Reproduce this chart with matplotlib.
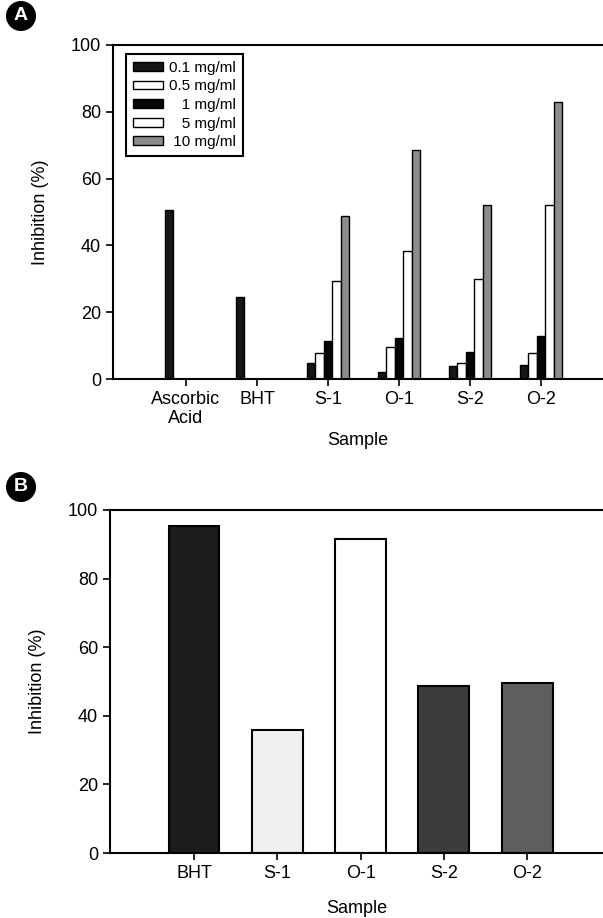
import matplotlib
matplotlib.use("Agg")
import matplotlib.pyplot as plt
import numpy as np

plt.rcParams['font.family'] = ['Liberation Sans', 'DejaVu Sans']

# panel A data
samples_a = ['Ascorbic\nAcid', 'BHT', 'S-1', 'O-1', 'S-2', 'O-2']
# padded with figure/punctuation spaces so the labels line up on the right
conc_labels = ['0.1 mg/ml', '0.5 mg/ml', '\u2007\u20081 mg/ml', '\u2007\u20085 mg/ml', '\u200810 mg/ml']
c01 = [50.5, 24.5, 4.8, 2.2, 3.8, 4.2]
c05 = [0, 0, 7.7, 9.5, 4.8, 7.7]
c1 = [0, 0, 11.5, 12.3, 8.0, 12.8]
c5 = [0, 0, 29.4, 38.4, 29.8, 52.0]
c10 = [0, 0, 48.9, 68.5, 52.1, 82.9]
a_colors = ['#161616', 'white', '#050505', 'white', '#8c8c8c']

# panel B data
samples_b = ['BHT', 'S-1', 'O-1', 'S-2', 'O-2']
inhib_b = [95.4, 35.9, 91.6, 48.8, 49.5]
b_colors = ['#1c1c1c', '#f0f0f0', 'white', '#3c3c3c', '#5e5e5e']

fig = plt.figure(figsize=(6.03, 9.18), dpi=100)

def style_axes(ax):
    for s in ['left', 'top', 'bottom']:
        ax.spines[s].set_linewidth(1.5)
    ax.spines['right'].set_visible(False)
    ax.tick_params(direction='out', length=5, width=1.2, labelsize=13)
    ax.set_ylim(0, 100)
    ax.set_yticks([0, 20, 40, 60, 80, 100])

# ---- A ----
axA = fig.add_axes([113/603, 1-379/918, 490/603, 334/918])
x = np.arange(len(samples_a))
w = 0.121
series = [c01, c05, c1, c5, c10]
for k, vals in enumerate(series):
    axA.bar(x + (k-2)*w, vals, w, color=a_colors[k], edgecolor='black',
            linewidth=1.0, label=conc_labels[k])
axA.set_xlim(-1.028, 5.873)
axA.set_xticks(x)
axA.set_xticklabels(samples_a)
style_axes(axA)
axA.set_ylabel('Inhibition (%)', fontsize=13)
axA.yaxis.set_label_coords(-0.13, 0.5)
axA.set_xlabel('Sample', fontsize=13)
axA.xaxis.set_label_coords(0.5, -0.183)
axA.xaxis.label.set_va('center')
leg = axA.legend(loc='upper left', bbox_to_anchor=(0.0265, 0.973), borderaxespad=0,
                 fancybox=False, edgecolor='black', fontsize=11, handlelength=2.0,
                 handleheight=0.5, labelspacing=0.3, handletextpad=0.35,
                 borderpad=0.45, framealpha=1)
leg.get_frame().set_linewidth(1.5)

# ---- B ----
axB = fig.add_axes([110/603, 1-853/918, 493/603, 343/918])
xb = np.arange(len(samples_b))
axB.bar(xb, inhib_b, 0.61, color=b_colors, edgecolor='black', linewidth=1.5)
axB.set_xlim(-1.008, 4.91)
axB.set_xticks(xb)
axB.set_xticklabels(samples_b)
style_axes(axB)
axB.set_ylabel('Inhibition (%)', fontsize=13)
axB.yaxis.set_label_coords(-0.13, 0.5)
axB.set_xlabel('Sample', fontsize=13)
axB.xaxis.set_label_coords(0.5, -0.163)
axB.xaxis.label.set_va('center')

# panel letters
for lab, yy in [('A', 1-16/918), ('B', 1-487/918)]:
    fig.text(21/603, yy, lab, color='white', fontsize=14, fontweight='bold',
             ha='center', va='center',
             bbox=dict(boxstyle='circle,pad=0.3', fc='black', ec='black'))

fig.savefig('out.png', dpi=100)
